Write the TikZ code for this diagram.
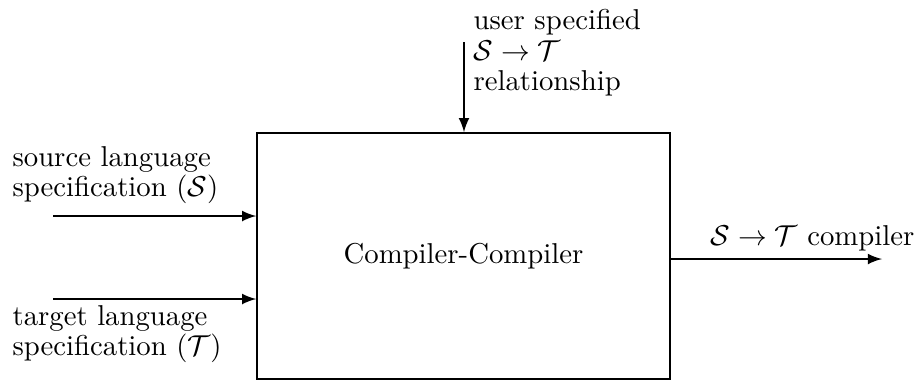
\documentclass[tikz,border=0pt]{standalone}
\usetikzlibrary{positioning}

\begin{document}
\begin{tikzpicture}
  [x=0.348pt,y=-0.348pt,>=latex,
  block/.style={rectangle,draw,line width=0.55pt,inner sep=0pt,
                minimum width=143.7pt,minimum height=85.6pt},
  flow/.style={->,line width=0.7pt},
  lbl/.style={inner sep=0pt,align=left,anchor=north west,
              font=\fontsize{10}{10.6}\selectfont}]
  \useasboundingbox (0,0) rectangle (920,381);

  \node[block]  (cc)   at (463.5,256)  {Compiler-Compiler};

  \coordinate (src)  at (53,216);
  \coordinate (tgt)  at (53,299);
  \coordinate (rel)  at (464,42);
  \coordinate (out)  at (882,259);

  \node[lbl]    (srclbl) at (12,146)  {source language\\specification ($\mathcal{S}$)};
  \node[lbl]    (tgtlbl) at (12,305)  {target language\\specification ($\mathcal{T}$)};
  \node[lbl,font=\fontsize{10}{10.6}\selectfont]
                (rellbl) at (473,9)   {user specified\\$\mathcal{S}\rightarrow\mathcal{T}$\\relationship};
  \node[inner sep=0pt,anchor=base west]
                (outlbl) at (710,245) {$\mathcal{S}\rightarrow\mathcal{T}$ compiler};

  \draw [flow] (src) -- (src -| cc.west);
  \draw [flow] (tgt) -- (tgt -| cc.west);
  \draw [flow] (rel) -- (rel |- cc.north);
  \draw [flow] (out -| cc.east) -- (out);

\end{tikzpicture}
\end{document}
